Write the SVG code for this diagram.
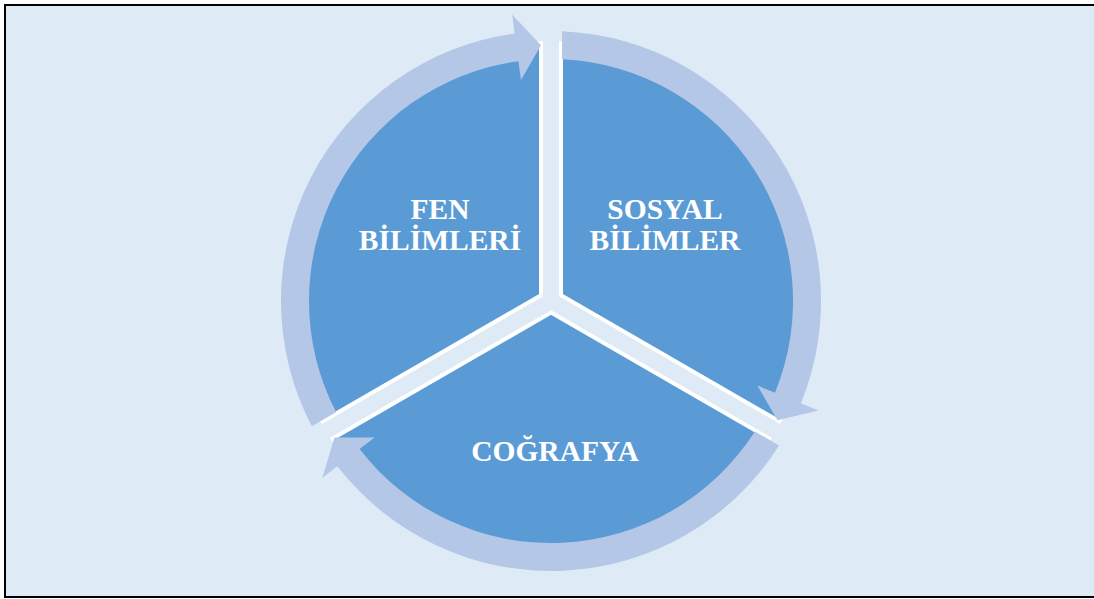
<svg xmlns="http://www.w3.org/2000/svg" width="1094" height="599" viewBox="0 0 1094 599">
<style>
.sector{fill:#5B9BD5;stroke:#FFFFFF;stroke-width:4;stroke-linejoin:miter}
.arrow{fill:#B4C7E7;stroke:none}
.lbl{font-family:"Liberation Serif","Times New Roman",serif;font-weight:bold;font-size:29.5px;fill:#FFFFFF;text-anchor:middle}
</style>
<rect x="0" y="0" width="1094" height="599" fill="#FFFFFF"/>
<rect x="5" y="5" width="1100" height="592" fill="#DEEBF7" stroke="#000000" stroke-width="2"/>
<g id="fen">
<path class="sector" d="M541,295.2 L322.7,421.3 A258,258 0 0 1 541,43.2 Z"/>
</g>
<g id="sosyal">
<path class="sector" d="M561,295.2 L561,43.2 A258,258 0 0 1 779.3,421.3 Z"/>
</g>
<g id="cografya">
<path class="sector" d="M551,312.55 L769.3,438.5 A258,258 0 0 1 332.7,438.5 Z"/>
</g>
<g id="connectors">
<path class="arrow" d="M311.8,426.3 A270,270 0 0 1 514.6,33.5 L512.1,14.6 L541,45.2 L521,80 L518.4,61.2 A242,242 0 0 0 336.1,412.3 Z"/>
<path class="arrow" d="M562,31.2 A270,270 0 0 1 800.9,403.3 L818.5,410.5 L777.5,420.2 L757.4,385.5 L775,392.7 A242,242 0 0 0 562,59.25 Z"/>
<path class="arrow" d="M779.1,445.4 A270,270 0 0 1 337.4,466.2 L322.4,477.8 L334.4,437.6 L374.6,437.4 L359.6,449.1 A242,242 0 0 0 754.9,431.4 Z"/>
</g>
<g id="labels">
<text class="lbl" x="440" y="219">FEN</text>
<text class="lbl" x="440" y="250">BİLİMLERİ</text>
<text class="lbl" x="665" y="219">SOSYAL</text>
<text class="lbl" x="665" y="250">BİLİMLER</text>
<text class="lbl" x="555" y="461">COĞRAFYA</text>
</g>
</svg>
